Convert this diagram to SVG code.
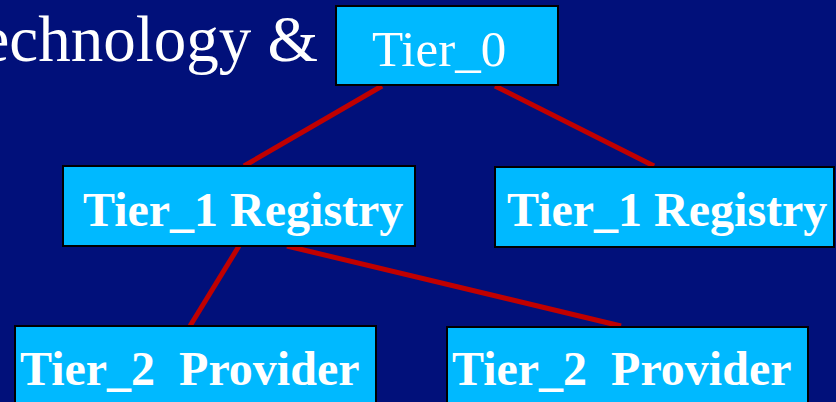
<svg xmlns="http://www.w3.org/2000/svg" width="836" height="402" viewBox="0 0 836 402">
  <style>
    .node rect { fill: #00B9FF; stroke: #000000; stroke-width: 2; }
    .node text { fill: #FFFFFF; font-family: "Liberation Serif", "Times New Roman", serif; font-weight: bold; font-size: 48px; white-space: pre; }
    .title { fill: #FFFFFF; font-family: "Liberation Serif", "Times New Roman", serif; font-size: 65px; }
    .links line { stroke: #C00000; stroke-width: 5; }
  </style>
  <rect x="0" y="0" width="836" height="402" fill="#01107A"/>

  <!-- title fragment, running off the left edge -->
  <text class="title" x="318" y="61" text-anchor="end">Technology &amp;</text>

  <!-- connectors -->
  <g id="links" class="links">
    <line x1="382" y1="86" x2="244" y2="166"/>
    <line x1="495" y1="86" x2="654" y2="166"/>
    <line x1="239" y1="246" x2="190" y2="326"/>
    <line x1="287" y1="246" x2="621" y2="326"/>
  </g>

  <g id="tier0" class="node">
    <rect x="336" y="6" width="222" height="79"/>
    <text x="372" y="66" style="font-weight:normal;font-size:51px">Tier_0</text>
  </g>

  <g id="tier1-left" class="node">
    <rect x="63" y="166" width="352" height="80"/>
    <text x="83" y="226">Tier_1 Registry</text>
  </g>

  <g id="tier1-right" class="node">
    <rect x="495" y="167" width="339" height="80"/>
    <text x="507" y="226">Tier_1 Registry</text>
  </g>

  <g id="tier2-left" class="node">
    <rect x="15" y="326" width="361" height="90"/>
    <text x="20" y="385" xml:space="preserve">Tier_2  Provider</text>
  </g>

  <g id="tier2-right" class="node">
    <rect x="447" y="327" width="361" height="90"/>
    <text x="452" y="385" xml:space="preserve">Tier_2  Provider</text>
  </g>
</svg>
